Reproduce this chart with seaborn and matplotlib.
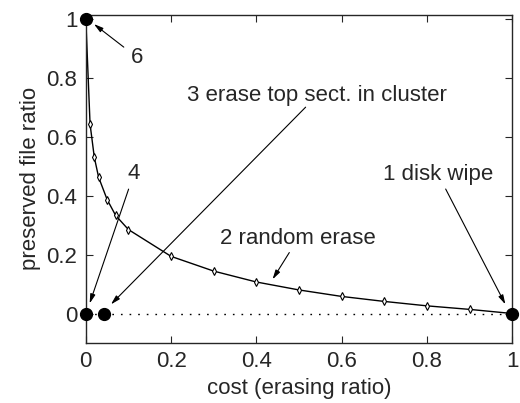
import numpy as np
import pandas as pd
import seaborn as sns
import matplotlib.pyplot as plt

# random erase curve
cost = [0, 0.01, 0.02, 0.03, 0.05, 0.07, 0.1, 0.2, 0.3, 0.4, 0.5, 0.6, 0.7, 0.8, 0.9, 1.0]
preserved = [1.0, 0.643, 0.53, 0.463, 0.387, 0.333, 0.285, 0.194, 0.144, 0.107,
             0.08, 0.058, 0.041, 0.026, 0.014, 0.0]

# big dots for the other strategies
dot_x = [0, 0, 0.042, 1.0]
dot_y = [1.0, 0.0, 0.0, 0.0]

xticks = [0, 0.2, 0.4, 0.6, 0.8, 1]
xtick_labels = ['0', '0.2', '0.4', '0.6', '0.8', '1']
yticks = [0, 0.2, 0.4, 0.6, 0.8, 1]
ytick_labels = ['0', '0.2', '0.4', '0.6', '0.8', '1']

# (label, text pos, arrow tip)
notes = [
    ('6', (0.12, 0.87), (0.019, 0.983)),
    ('4', (0.113, 0.476), (0.009, 0.034)),
    ('3 erase top sect. in cluster', (0.543, 0.741), (0.059, 0.031)),
    ('1 disk wipe', (0.826, 0.473), (0.984, 0.031)),
    ('2 random erase', (0.498, 0.255), (0.438, 0.116)),
]

sns.set_style('ticks')
plt.rcParams['font.family'] = ['Liberation Sans', 'DejaVu Sans']
plt.rcParams['xtick.direction'] = 'in'
plt.rcParams['ytick.direction'] = 'in'

fig = plt.figure(figsize=(5.2, 4.03), dpi=100)
ax = fig.add_axes([0.165, 0.149, 0.82, 0.814])

curve = pd.DataFrame({'cost': cost, 'preserved': preserved})
ax.plot([0, 1], [0, 0], color='k', lw=1, dashes=(1.2, 5))
sns.lineplot(data=curve, x='cost', y='preserved', ax=ax, color='k', lw=1,
             marker='d', markersize=4, markerfacecolor='white',
             markeredgecolor='k', markeredgewidth=0.8)
ax.plot(dot_x, dot_y, 'o', color='k', markersize=8.5, clip_on=False, zorder=5)

for label, (tx, ty), (hx, hy) in notes:
    ax.annotate('', xy=(hx, hy), xytext=(tx, ty), textcoords='data',
                arrowprops=dict(arrowstyle='-|>,head_length=0.55,head_width=0.15',
                                color='k', lw=0.8, shrinkA=12, shrinkB=0))
    ax.text(tx, ty, label, ha='center', va='center', fontsize=16)

ax.set_xlim(0, 1)
ax.set_ylim(-0.1, 1.014)
ax.set_xticks(xticks)
ax.set_xticklabels(xtick_labels)
ax.set_yticks(yticks)
ax.set_yticklabels(ytick_labels)
ax.tick_params(labelsize=16, length=5, width=0.8, top=True, right=True, pad=6)
for s in ax.spines.values():
    s.set_linewidth(1)
ax.set_xlabel('cost (erasing ratio)', fontsize=16, labelpad=4)
ax.set_ylabel('preserved file ratio', fontsize=16, labelpad=4)

fig.savefig('out.png', dpi=100)
